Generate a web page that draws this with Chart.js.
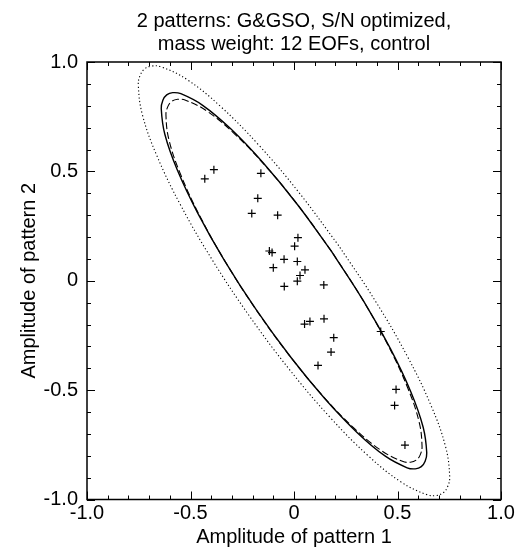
<!DOCTYPE html>
<html>
<head>
<meta charset="utf-8">
<title>2 patterns: G&amp;GSO, S/N optimized</title>
<script src="https://cdn.jsdelivr.net/npm/chart.js@4.4.1/dist/chart.umd.min.js"></script>
<style>
  html, body { margin: 0; padding: 0; background: #fff; }
  #chart { display: block; }
</style>
</head>
<body>
<canvas id="chart" width="527" height="551"></canvas>
<script>
// Amplitudes of the control run (crosses):
const ampX = [-0.387, -0.431, -0.160, -0.175, -0.204, -0.079, 0.019, 0.003, -0.119, -0.106,
              -0.048, 0.016, -0.100, 0.053, 0.029, 0.016, -0.047, 0.144, 0.145, 0.077,
              0.051, 0.192, 0.179, 0.116, 0.419, 0.493, 0.486, 0.536];
const ampY = [0.508, 0.466, 0.491, 0.377, 0.308, 0.300, 0.197, 0.158, 0.136, 0.129,
              0.098, 0.088, 0.060, 0.050, 0.024, -0.002, -0.026, -0.019, -0.174, -0.186,
              -0.198, -0.260, -0.326, -0.387, -0.232, -0.497, -0.570, -0.751];

// Solid ellipse outline:
const solidX = [0.1827, 0.0173, -0.1493, -0.3057, -0.4412, -0.5467, -0.5859, -0.6150, -0.6335, -0.6413,
                -0.6240, -0.5641, -0.4657, -0.3357, -0.1827, -0.0173, 0.1493, 0.3057, 0.4412, 0.5467,
                0.5859, 0.6150, 0.6335, 0.6413, 0.6240, 0.5641, 0.4657, 0.3357, 0.1827];
const solidY = [0.1322, 0.3476, 0.5394, 0.6944, 0.8020, 0.8550, 0.8598, 0.8498, 0.8252, 0.7866,
                0.6698, 0.5074, 0.3104, 0.0922, -0.1322, -0.3476, -0.5394, -0.6944, -0.8020, -0.8550,
                -0.8598, -0.8498, -0.8252, -0.7866, -0.6698, -0.5074, -0.3104, -0.0922, 0.1322];

// Dashed ellipse outline:
const dashX = [0.1832, 0.0239, -0.1370, -0.2887, -0.4206, -0.5238, -0.5624, -0.5914, -0.6102, -0.6186,
               -0.6038, -0.5477, -0.4544, -0.3301, -0.1832, -0.0239, 0.1370, 0.2887, 0.4206, 0.5238,
               0.5624, 0.5914, 0.6102, 0.6186, 0.6038, 0.5477, 0.4544, 0.3301, 0.1832];
const dashY = [0.1322, 0.3397, 0.5241, 0.6728, 0.7755, 0.8255, 0.8295, 0.8192, 0.7949, 0.7571,
               0.6433, 0.4858, 0.2951, 0.0843, -0.1322, -0.3397, -0.5241, -0.6728, -0.7755, -0.8255,
               -0.8295, -0.8192, -0.7949, -0.7571, -0.6433, -0.4858, -0.2951, -0.0843, 0.1322];

// Dotted ellipse outline:
const dotX = [0.2159, 0.0219, -0.1735, -0.3571, -0.5163, -0.6404, -0.6865, -0.7209, -0.7429, -0.7522,
              -0.7323, -0.6625, -0.5475, -0.3951, -0.2159, -0.0219, 0.1735, 0.3571, 0.5163, 0.6404,
              0.6865, 0.7209, 0.7429, 0.7522, 0.7323, 0.6625, 0.5475, 0.3951, 0.2159];
const dotY = [0.1606, 0.4059, 0.6236, 0.7988, 0.9195, 0.9776, 0.9817, 0.9690, 0.9397, 0.8944,
              0.7589, 0.5716, 0.3454, 0.0957, -0.1606, -0.4059, -0.6236, -0.7988, -0.9195, -0.9776,
              -0.9817, -0.9690, -0.9397, -0.8944, -0.7589, -0.5716, -0.3454, -0.0957, 0.1606];

// Axis ticks:
const tickValues = [-1.0, -0.5, 0, 0.5, 1.0];
const tickLabels = ['-1.0', '-0.5', '0', '0.5', '1.0'];
const minorTicks = [-1.0, -0.9, -0.8, -0.7, -0.6, -0.5, -0.4, -0.3, -0.2, -0.1, 0,
                    0.1, 0.2, 0.3, 0.4, 0.5, 0.6, 0.7, 0.8, 0.9, 1.0];

const FONT = "'Liberation Sans', Arial, Helvetica, sans-serif";

// Helper to zip two arrays into {x, y} points:
const zip = (xs, ys) => xs.map((x, i) => ({ x: x, y: ys[i] }));

const curve = (xs, ys, dash, width) => ({
    data: zip(xs, ys),
    showLine: true,
    borderColor: '#000',
    borderWidth: width,
    borderDash: dash,
    pointRadius: 0,
    tension: 0.4,
    fill: false
});

// Frame plus inward ticks on all four sides:
const frameTicks = {
    id: 'frameTicks',
    afterDatasetsDraw(chart) {
        const { ctx, chartArea: a, scales: { x, y } } = chart;
        ctx.save();
        ctx.strokeStyle = '#000';
        ctx.lineWidth = 1;
        ctx.beginPath();
        minorTicks.forEach((v) => {
            const len = Math.round(v * 10) % 5 === 0 ? 8 : 4;
            const px = Math.round(x.getPixelForValue(v)) + 0.5;
            const py = Math.round(y.getPixelForValue(v)) + 0.5;
            ctx.moveTo(px, a.bottom); ctx.lineTo(px, a.bottom - len);
            ctx.moveTo(px, a.top); ctx.lineTo(px, a.top + len);
            ctx.moveTo(a.left, py); ctx.lineTo(a.left + len, py);
            ctx.moveTo(a.right, py); ctx.lineTo(a.right - len, py);
        });
        ctx.stroke();
        ctx.lineWidth = 1.5;
        ctx.strokeRect(a.left, a.top, a.right - a.left, a.bottom - a.top);
        ctx.restore();
    }
};

const axis = (title, size, tickPad, titlePad) => ({
    type: 'linear',
    min: -1,
    max: 1,
    afterBuildTicks: (scale) => {
        scale.ticks = tickValues.map((v) => ({ value: v }));
    },
    afterFit: (scale) => {
        if (scale.isHorizontal()) {
            scale.height = size;
        } else {
            scale.width = size;
        }
    },
    grid: { display: false, drawTicks: false },
    border: { display: false },
    ticks: {
        color: '#000',
        padding: tickPad,
        font: { family: FONT, size: 20 },
        callback: (v, i) => tickLabels[i]
    },
    title: {
        display: true,
        text: title,
        color: '#000',
        padding: titlePad,
        font: { family: FONT, size: 20 }
    }
});

new Chart(document.getElementById('chart'), {
    type: 'scatter',
    data: {
        datasets: [
            {
                data: zip(ampX, ampY),
                pointStyle: 'cross',
                pointRadius: 4,
                pointBorderWidth: 1.2,
                borderColor: '#000',
                backgroundColor: '#000'
            },
            curve(solidX, solidY, [], 1.4),
            curve(dashX, dashY, [7, 3], 1.1),
            curve(dotX, dotY, [1.2, 2.4], 1.1)
        ]
    },
    options: {
        responsive: false,
        animation: false,
        layout: { padding: { left: 0, right: 26, top: 0, bottom: 0 } },
        plugins: {
            legend: { display: false },
            tooltip: { enabled: false },
            title: {
                display: true,
                fullSize: false,
                text: ['2 patterns: G&GSO, S/N optimized,', 'mass weight: 12 EOFs, control'],
                color: '#000',
                font: { family: FONT, size: 20, weight: 'normal', lineHeight: 1.15 },
                padding: { top: 10, bottom: 6 }
            }
        },
        scales: {
            x: axis('Amplitude of pattern 1', 51.5, 2, { top: 0, bottom: 1.5 }),
            y: axis('Amplitude of pattern 2', 87, 9, { top: 17, bottom: 0 })
        }
    },
    plugins: [frameTicks]
});
</script>
</body>
</html>
